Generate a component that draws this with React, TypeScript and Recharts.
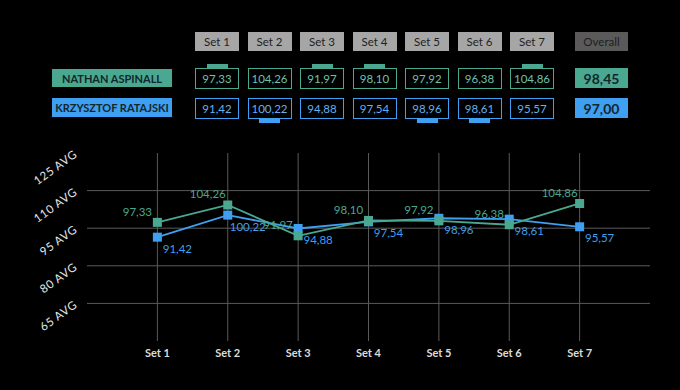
import React from 'react'
import { LineChart, Line, XAxis, YAxis, CartesianGrid } from 'recharts'

const sets = ['Set 1', 'Set 2', 'Set 3', 'Set 4', 'Set 5', 'Set 6', 'Set 7']
const nathan = [97.33, 104.26, 91.97, 98.1, 97.92, 96.38, 104.86]
const krzysztof = [91.42, 100.22, 94.88, 97.54, 98.96, 98.61, 95.57]
const setWinners = ['N', 'K', 'N', 'N', 'K', 'K', 'N']
const overall = { nathan: 98.45, krzysztof: 97.0 }
const yTicks = [65, 80, 95, 110, 125]
const gridValues = [65, 80, 95, 110]
const setPositions = [1, 2, 3, 4, 5, 6, 7]

const TEAL = '#4aa891'
const BLUE = '#3f9ff0'
const FONT = 'Lato, "Open Sans", sans-serif'

const fmt = (v: number) => v.toFixed(2).replace('.', ',')

const chartData = sets.map((s, i) => ({
  x: setPositions[i],
  set: s,
  nathan: nathan[i],
  krzysztof: krzysztof[i],
}))

const SquareDot = (color: string) => (props: any) => {
  const { cx, cy, index } = props
  if (cx == null || cy == null) return <g key={index} />
  return <rect key={index} x={cx - 4.5} y={cy - 4.5} width={9} height={9} fill={color} />
}

const ValueLabel = (color: string, dx: number, dy: number) => (props: any) => {
  const { x, y, value, index } = props
  return (
    <text
      key={index}
      x={x + dx}
      y={y + dy}
      fill={color}
      fontSize={11.5}
      fontFamily={FONT}
      textAnchor="middle"
      dominantBaseline="central"
    >
      {fmt(value)}
    </text>
  )
}

const YTick = (props: any) => {
  const { x, y, payload } = props
  return (
    <g transform={`translate(${x - 1},${y + 3})`}>
      <text
        textAnchor="end"
        transform="rotate(-36)"
        fill="#e6e6e6"
        fontSize={11.5}
        fontFamily={FONT}
        letterSpacing={0.6}
      >
        {payload.value} AVG
      </text>
    </g>
  )
}

const box = (extra: React.CSSProperties): React.CSSProperties => ({
  position: 'absolute',
  boxSizing: 'border-box',
  display: 'flex',
  alignItems: 'center',
  justifyContent: 'center',
  fontFamily: FONT,
  ...extra,
})

function ScoreTable() {
  const colX = (i: number) => 195 + i * 52.5
  return (
    <>
      {sets.map((s, i) => (
        <div key={s} style={box({ left: colX(i), top: 32, width: 44, height: 19, background: '#a6a6a6', color: '#1e1e1e', fontSize: 11.5 })}>
          {s}
        </div>
      ))}
      <div style={box({ left: 575, top: 32, width: 53, height: 19, background: '#5a5a5a', color: '#1e1e1e', fontSize: 11.5 })}>
        Overall
      </div>

      <div style={box({ left: 52, top: 69, width: 120, height: 18, background: TEAL, color: '#14262a', fontSize: 11, fontWeight: 700 })}>
        NATHAN ASPINALL
      </div>
      <div style={box({ left: 52, top: 98, width: 120, height: 19, background: BLUE, color: '#14262a', fontSize: 11, fontWeight: 700 })}>
        KRZYSZTOF RATAJSKI
      </div>

      {nathan.map((v, i) => (
        <div key={'n' + i} style={box({ left: colX(i), top: 68, width: 44, height: 21, border: `1px solid ${TEAL}`, color: '#6cc2ac', fontSize: 11.5 })}>
          {fmt(v)}
        </div>
      ))}
      {krzysztof.map((v, i) => (
        <div key={'k' + i} style={box({ left: colX(i), top: 98, width: 44, height: 21, border: `1px solid ${BLUE}`, color: '#62b0f5', fontSize: 11.5 })}>
          {fmt(v)}
        </div>
      ))}
      {setWinners.map((w, i) => (
        <div
          key={'w' + i}
          style={box({
            left: colX(i) + 11.5,
            top: w === 'N' ? 64 : 119,
            width: 21,
            height: 4,
            background: w === 'N' ? TEAL : BLUE,
          })}
        />
      ))}

      <div style={box({ left: 575, top: 68, width: 53, height: 20, background: TEAL, color: '#14262a', fontSize: 14, fontWeight: 700 })}>
        {fmt(overall.nathan)}
      </div>
      <div style={box({ left: 575, top: 98, width: 53, height: 20, background: BLUE, color: '#14262a', fontSize: 14, fontWeight: 700 })}>
        {fmt(overall.krzysztof)}
      </div>
    </>
  )
}

export default function App() {
  return (
    <div style={{ position: 'fixed', left: 0, top: 0, width: 680, height: 390, background: '#000', overflow: 'hidden' }}>
      <ScoreTable />
      <div style={{ position: 'absolute', left: 0, top: 140 }}>
        <LineChart width={680} height={250} data={chartData} margin={{ top: 13, right: 30, bottom: 19, left: 0 }}>
          <CartesianGrid
            stroke="#5a5a5a"
            strokeWidth={1}
            horizontalValues={gridValues}
            verticalValues={setPositions}
          />
          <XAxis
            dataKey="x"
            type="number"
            domain={[0, 8]}
            ticks={setPositions}
            tickFormatter={(v: number) => sets[v - 1]}
            axisLine={false}
            tickLine={false}
            height={30}
            tick={{ fill: '#dcdcdc', fontSize: 11, fontWeight: 700, fontFamily: FONT }}
          />
          <YAxis
            type="number"
            domain={[50, 125]}
            ticks={yTicks}
            width={87}
            axisLine={false}
            tickLine={false}
            tick={<YTick />}
          />
          <Line
            dataKey="krzysztof"
            stroke={BLUE}
            strokeWidth={1.8}
            dot={SquareDot(BLUE)}
            activeDot={false}
            isAnimationActive={false}
            label={ValueLabel(BLUE, 20, 11)}
          />
          <Line
            dataKey="nathan"
            stroke={TEAL}
            strokeWidth={1.8}
            dot={SquareDot(TEAL)}
            activeDot={false}
            isAnimationActive={false}
            label={ValueLabel(TEAL, -20, -11)}
          />
        </LineChart>
      </div>
    </div>
  )
}
